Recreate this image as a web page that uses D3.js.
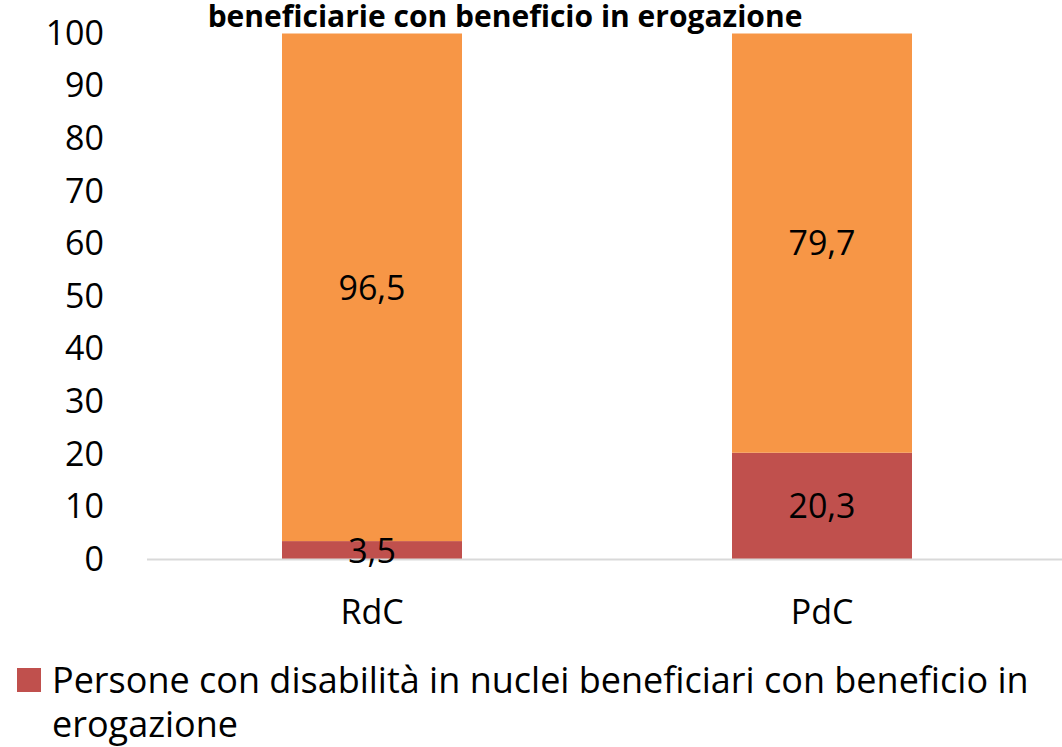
<!DOCTYPE html>
<html>
<head>
<meta charset="utf-8">
<script src="https://cdn.jsdelivr.net/npm/d3@7"></script>
<style>
  body { margin: 0; background: #fff; }
  text { font-family: "Open Sans", sans-serif; fill: #000; }
</style>
</head>
<body>
<script>
// data
var categories = ["RdC", "PdC"];
var disabili = [3.5, 20.3];      // Persone con disabilità ...
var altri = [96.5, 79.7];        // resto dei beneficiari
var seriesNames = ["Persone con disabilità in nuclei beneficiari con beneficio in erogazione", "Altri"];
var yTicks = [0, 10, 20, 30, 40, 50, 60, 70, 80, 90, 100];
var colors = ["#c0504d", "#f79646"];

var width = 1062, height = 747;
var margin = {top: 33.5, right: 15, bottom: 187.5, left: 147};

var svg = d3.select("body").append("svg")
    .attr("width", width)
    .attr("height", height);

var x = d3.scaleBand()
    .domain(categories)
    .range([margin.left, width - margin.right])
    .paddingInner(0.6)
    .paddingOuter(0.3);

var y = d3.scaleLinear()
    .domain([0, 100])
    .range([height - margin.bottom, margin.top]);

// stack the two series
var rows = categories.map(function(c, i) {
  return {cat: c, s0: disabili[i], s1: altri[i]};
});
var stacked = d3.stack().keys(["s0", "s1"])(rows);

// bars
stacked.forEach(function(layer, li) {
  svg.append("g").selectAll("rect")
      .data(layer)
      .enter().append("rect")
      .attr("x", function(d) { return x(d.data.cat); })
      .attr("width", x.bandwidth())
      .attr("y", function(d) { return y(d[1]); })
      .attr("height", function(d) { return y(d[0]) - y(d[1]); })
      .attr("fill", colors[li]);
});

// baseline
svg.append("line")
    .attr("x1", margin.left)
    .attr("x2", width)
    .attr("y1", y(0))
    .attr("y2", y(0))
    .attr("stroke", "#d9d9d9")
    .attr("stroke-width", 2);

// value labels
var fmt = function(v) { return d3.format(".1f")(v).replace(".", ","); };
stacked.forEach(function(layer) {
  svg.append("g").selectAll("text")
      .data(layer)
      .enter().append("text")
      .attr("x", function(d) { return x(d.data.cat) + x.bandwidth() / 2; })
      .attr("y", function(d) { return y((d[0] + d[1]) / 2); })
      .attr("dy", "0.36em")
      .attr("text-anchor", "middle")
      .style("font-size", "34px")
      .text(function(d) { return fmt(d[1] - d[0]); });
});

// y axis (labels only)
var yAxis = svg.append("g")
    .attr("transform", "translate(104,0)")
    .call(d3.axisLeft(y).tickValues(yTicks).tickSize(0).tickPadding(0));
yAxis.select(".domain").remove();
yAxis.selectAll("text")
    .style("font-family", "'Open Sans', sans-serif")
    .style("font-size", "34px")
    .attr("fill", "#000");

// x axis (labels only)
var xAxis = svg.append("g")
    .attr("transform", "translate(0," + y(0) + ")")
    .call(d3.axisBottom(x).tickSize(0).tickPadding(40));
xAxis.select(".domain").remove();
xAxis.selectAll("text")
    .style("font-family", "'Open Sans', sans-serif")
    .style("font-size", "34px")
    .attr("fill", "#000");

// title (upper line cut off in the original)
svg.append("text")
    .attr("x", 505)
    .attr("y", 27)
    .attr("text-anchor", "middle")
    .style("font-size", "30px")
    .style("font-weight", "bold")
    .text("beneficiarie con beneficio in erogazione");

// legend
var legend = svg.append("g");
legend.append("rect")
    .attr("x", 17).attr("y", 668)
    .attr("width", 24).attr("height", 24)
    .attr("fill", colors[0]);
var lt = legend.append("text")
    .attr("x", 52).attr("y", 693)
    .style("font-size", "36px");
lt.append("tspan").text("Persone con disabilità in nuclei beneficiari con beneficio in");
lt.append("tspan").attr("x", 52).attr("y", 737).text("erogazione");
</script>
</body>
</html>
